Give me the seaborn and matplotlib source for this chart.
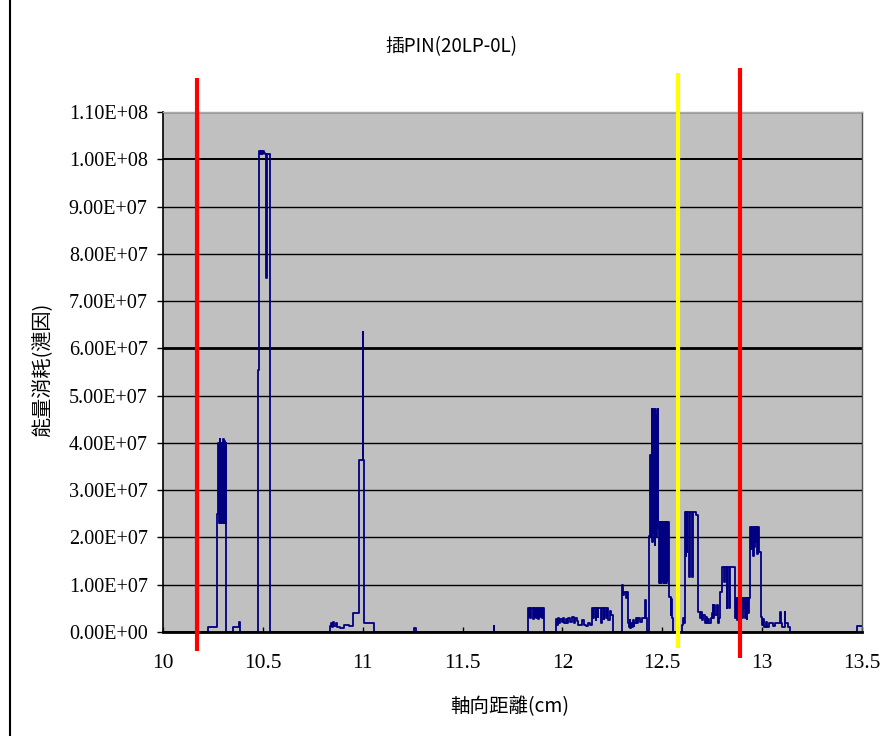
import matplotlib
matplotlib.use("Agg")
import matplotlib.pyplot as plt
import seaborn as sns
import pandas as pd
from matplotlib.lines import Line2D
from matplotlib.ticker import FixedLocator, FixedFormatter

# ---------------- text ----------------
title = "插PIN(20LP-0L)"
x_label = "軸向距離(cm)"
y_label = "能量消耗(漣因)"

x_ticks = [10, 10.5, 11, 11.5, 12, 12.5, 13, 13.5]
x_tick_labels = ["10", "10.5", "11", "11.5", "12", "12.5", "13", "13.5"]
y_ticks = [0, 1e7, 2e7, 3e7, 4e7, 5e7, 6e7, 7e7, 8e7, 9e7, 1e8, 1.1e8]
y_tick_labels = ["0.00E+00", "1.00E+07", "2.00E+07", "3.00E+07", "4.00E+07",
                 "5.00E+07", "6.00E+07", "7.00E+07", "8.00E+07", "9.00E+07",
                 "1.00E+08", "1.10E+08"]

# vertical marker lines (cm) and colours
marker_x = [10.17, 12.58, 12.89]
marker_colors = ["#ff0000", "#ffff00", "#ff0000"]

# ---------------- data (step series, energy in units of 1e7) ----------------
seg1_x = [10.000, 10.225, 10.270, 10.275, 10.279, 10.283, 10.287, 10.291, 10.295, 10.299,
          10.303, 10.307, 10.311, 10.314, 10.317, 10.351, 10.382, 10.386, 10.476, 10.481,
          10.486, 10.490, 10.495, 10.500, 10.505, 10.512, 10.517, 10.520, 10.536]
seg1_y = [0, 0.1, 2.5, 4.0, 2.3, 4.08, 2.3, 4.0, 2.3, 4.08,
          2.3, 4.05, 2.3, 4.0, 0, 0.1, 0.22, 0, 5.54, 10.17,
          10.12, 10.17, 10.12, 10.17, 10.14, 10.12, 7.48, 10.12, 0]

seg2_x = [10.836, 10.840, 10.846, 10.852, 10.858, 10.866, 10.872, 10.885, 10.905, 10.930,
          10.951, 10.982, 10.999, 11.001, 11.008, 11.058, 11.255, 11.268, 11.655, 11.659]
seg2_y = [0.12, 0.2, 0.1, 0.22, 0.12, 0.2, 0.1, 0.08, 0.15, 0.12,
          0.4, 3.64, 6.34, 3.64, 0.2, 0, 0.08, 0, 0.12, 0]

seg3_x = [11.828, 11.832, 11.836, 11.840, 11.844, 11.852, 11.856, 11.860, 11.864, 11.868,
          11.872, 11.880, 11.884, 11.888, 11.892, 11.900, 11.904, 11.908]
seg3_y = [0.5, 0.32, 0.5, 0.3, 0.5, 0.28, 0.5, 0.32, 0.5, 0.3,
          0.5, 0.28, 0.5, 0.32, 0.5, 0.3, 0.5, 0]

seg4_x = [11.968, 11.973, 11.978, 11.984, 11.990, 11.996, 12.002, 12.010, 12.016, 12.024,
          12.030, 12.040, 12.048, 12.056, 12.064, 12.072, 12.080, 12.090, 12.100, 12.110,
          12.120, 12.130, 12.140,
          12.148, 12.152, 12.156, 12.166, 12.170, 12.176, 12.180, 12.194, 12.198, 12.206,
          12.210, 12.218, 12.222, 12.230, 12.236, 12.242, 12.253]
seg4_y = [0.28, 0.15, 0.3, 0.2, 0.28, 0.22, 0.3, 0.2, 0.28, 0.18,
          0.3, 0.22, 0.32, 0.2, 0.3, 0.24, 0.14, 0.14, 0.25, 0.14,
          0.12, 0.2, 0.14,
          0.5, 0.3, 0.5, 0.25, 0.5, 0.32, 0.5, 0.2, 0.5, 0.28,
          0.5, 0.3, 0.5, 0.25, 0.45, 0.35, 0]

seg5_x = [12.300, 12.304, 12.310, 12.316, 12.322, 12.328, 12.332, 12.336, 12.340, 12.344,
          12.348, 12.352, 12.356, 12.360, 12.366, 12.372, 12.380, 12.390, 12.400, 12.408,
          12.413, 12.416, 12.422]
seg5_y = [1.0, 0.78, 0.85, 0.72, 0.85, 0.2, 0.1, 0.25, 0.08, 0.2,
          0.1, 0.25, 0.12, 0.2, 0.3, 0.2, 0.3, 0.22, 0.3, 0.3,
          0.68, 0.3, 0]

seg6_x = [12.434, 12.440, 12.444, 12.448, 12.451, 12.454, 12.457, 12.460, 12.463, 12.466,
          12.469, 12.472, 12.475, 12.478, 12.481, 12.484, 12.487, 12.490, 12.493, 12.496,
          12.499, 12.502, 12.505, 12.508, 12.511, 12.514, 12.517, 12.520, 12.523, 12.526,
          12.529, 12.532, 12.536, 12.542, 12.546, 12.550, 12.554]
seg6_y = [2.03, 3.74, 2.0, 4.71, 1.9, 4.71, 2.1, 3.74, 1.85, 4.71,
          2.0, 4.6, 2.2, 4.71, 2.33, 1.04, 2.33, 1.04, 2.33, 1.04,
          2.33, 1.1, 2.33, 1.04, 2.33, 1.04, 2.33, 1.04, 2.33, 1.1,
          2.33, 1.04, 0.75, 0.35, 0.7, 0.3, 0]

seg7_x = [12.599, 12.603, 12.608, 12.614, 12.617, 12.620, 12.623, 12.626, 12.634, 12.637,
          12.649, 12.652, 12.671, 12.681]
seg7_y = [0.15, 0.3, 0.2, 2.53, 1.6, 2.53, 1.7, 2.53, 1.16, 2.53,
          1.16, 2.53, 2.47, 0.42]

seg8_x = [12.688, 12.694, 12.700, 12.706, 12.712, 12.718, 12.724, 12.730, 12.736, 12.742,
          12.748, 12.752, 12.756, 12.760, 12.766, 12.772, 12.778, 12.784, 12.789]
seg8_y = [0.3, 0.42, 0.25, 0.35, 0.2, 0.32, 0.18, 0.28, 0.2, 0.3,
          0.4, 0.57, 0.3, 0.57, 0.35, 0.57, 0.2, 0.3, 0.85]

seg9_x = [12.798, 12.810, 12.813, 12.822, 12.825, 12.836, 12.839, 12.862, 12.866, 12.870,
          12.874, 12.878, 12.882, 12.886, 12.890, 12.894, 12.898, 12.902, 12.906, 12.910,
          12.914, 12.918, 12.922, 12.926, 12.930, 12.935]
seg9_y = [1.37, 1.05, 1.37, 0.5, 1.37, 0.5, 1.37, 0.72, 0.3, 0.72,
          0.25, 0.72, 0.3, 0.72, 0.25, 0.72, 0.3, 0.72, 0.5, 0.72,
          0.3, 0.72, 0.28, 0.72, 0.4, 0.72]

seg10_x = [12.941, 12.945, 12.949, 12.953, 12.957, 12.961, 12.964, 12.968, 12.972, 12.976,
           12.980, 12.984, 12.992, 12.998, 13.004, 13.010, 13.018, 13.026, 13.035, 13.045,
           13.055, 13.065, 13.075, 13.088, 13.092, 13.100, 13.112, 13.116, 13.130, 13.140,
           13.475, 13.500]
seg10_y = [2.22, 1.75, 2.22, 1.6, 2.22, 1.8, 2.22, 1.9, 2.22, 1.65,
           2.22, 1.7, 0.32, 0.15, 0.28, 0.1, 0.22, 0.1, 0.2, 0.2,
           0.12, 0.2, 0.2, 0.42, 0.2, 0.1, 0.42, 0.2, 0.1, 0,
           0.12, 0.12]

all_x = (seg1_x + seg2_x + seg3_x + seg4_x + seg5_x + seg6_x + seg7_x + seg8_x
         + seg9_x + seg10_x)
all_y = (seg1_y + seg2_y + seg3_y + seg4_y + seg5_y + seg6_y + seg7_y + seg8_y
         + seg9_y + seg10_y)
df = pd.DataFrame({"axial_cm": all_x, "energy": [v * 1e7 for v in all_y]})

# ---------------- style ----------------
sns.set_theme(style="white")
plt.rcParams["font.family"] = ["Noto Sans CJK TC", "DejaVu Sans"]

W, H = 889, 736
fig = plt.figure(figsize=(W / 100, H / 100), dpi=100)
fig.patch.set_facecolor("white")
ax = fig.add_axes([163 / W, 1 - 632 / H, (862 - 163) / W, 520 / H])
ax.set_facecolor("#c0c0c0")

sns.lineplot(data=df, x="axial_cm", y="energy", estimator=None, sort=False,
             drawstyle="steps-post", color="#000080", linewidth=1.3, ax=ax,
             zorder=2)

ax.set_xlim(10, 13.5)
ax.set_ylim(0, 1.1e8)
ax.xaxis.set_major_locator(FixedLocator(x_ticks))
ax.xaxis.set_major_formatter(FixedFormatter(x_tick_labels))
ax.yaxis.set_major_locator(FixedLocator(y_ticks))
ax.yaxis.set_major_formatter(FixedFormatter(y_tick_labels))
ax.set_xlabel("")
ax.set_ylabel("")

for lab in ax.get_yticklabels():
    lab.set_fontfamily(["Liberation Serif"])
    lab.set_fontsize(14.5)
for lab in ax.get_xticklabels():
    lab.set_fontfamily(["Liberation Serif"])
    lab.set_fontsize(15.5)

ax.tick_params(axis="y", direction="out", length=4, width=1, color="black",
               pad=7, labelcolor="black", left=True)
ax.tick_params(axis="x", direction="in", length=3.5, width=1, color="black",
               pad=16, labelcolor="black", bottom=True)

ax.yaxis.grid(True, color="black", linewidth=1.0)
ax.xaxis.grid(False)
ax.set_axisbelow(True)
gl = ax.get_ygridlines()
gl[6].set_linewidth(2.0)
gl[10].set_linewidth(1.4)

for side in ["left", "bottom"]:
    ax.spines[side].set_color("black")
ax.spines["left"].set_linewidth(1.2)
ax.spines["bottom"].set_linewidth(2.0)
ax.spines["right"].set_color("#505050")
ax.spines["right"].set_linewidth(1.0)
ax.spines["top"].set_color("#a8a8a8")
ax.spines["top"].set_linewidth(1.0)
for sp in ax.spines.values():
    sp.set_visible(True)
    sp.set_zorder(3)

# vertical marker lines extending beyond the plot area
marker_spans = [(-0.037, 1.065), (-0.031, 1.075), (-0.05, 1.085)]
for mx, mc, (lo, hi) in zip(marker_x, marker_colors, marker_spans):
    ax.axvline(mx, ymin=lo, ymax=hi, color=mc, linewidth=3.0, clip_on=False,
               zorder=4, solid_capstyle="butt")

# texts
cjk = ["Noto Sans CJK TC", "DejaVu Sans"]
fig.text(451 / W, 1 - 47 / H, title, ha="center", va="center", fontsize=13.5,
         family=cjk, color="black")
fig.text(510 / W, 1 - 707 / H, x_label, ha="center", va="center", fontsize=14,
         family=cjk, color="black")
fig.text(42 / W, 1 - 370 / H, y_label, ha="center", va="center", fontsize=14.5,
         rotation=90, family=cjk, color="black")

# outer frame line at the left edge
fig.add_artist(Line2D([10 / W, 10 / W], [0, 1], color="black", linewidth=1.5))

fig.savefig("out.png", dpi=100)
